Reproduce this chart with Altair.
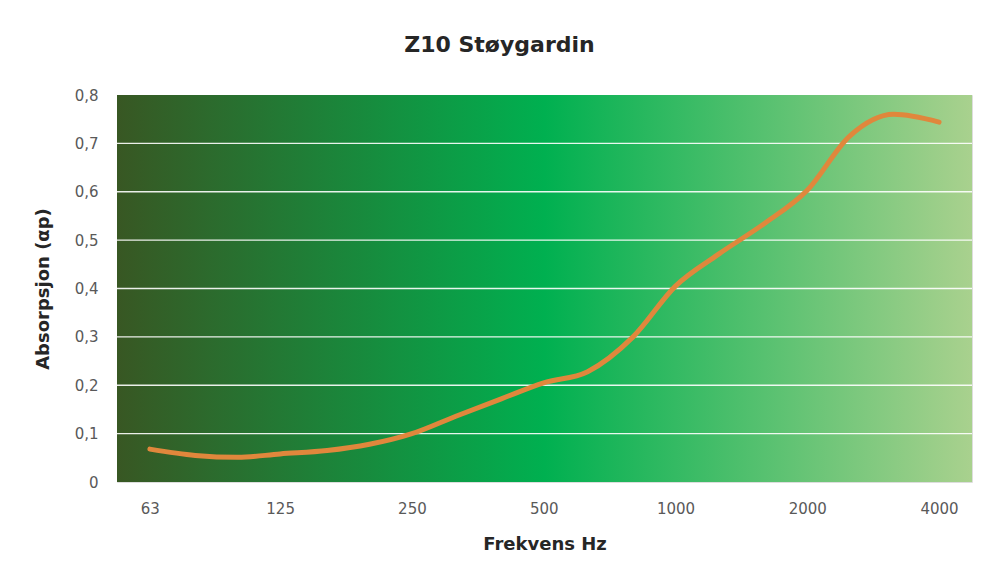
import altair as alt
import pandas as pd

# 1/3-octave band centre frequencies (Hz) and absorption values
freq = [63, 80, 100, 125, 160, 200, 250, 315, 400, 500, 630, 800,
        1000, 1250, 1600, 2000, 2500, 3150, 4000]
alpha = [0.068, 0.055, 0.051, 0.058, 0.065, 0.078, 0.100, 0.136, 0.172, 0.205,
         0.228, 0.300, 0.405, 0.470, 0.535, 0.603, 0.715, 0.760, 0.744]

tick_freqs = [63, 125, 250, 500, 1000, 2000, 4000]
y_ticks = [0, 0.1, 0.2, 0.3, 0.4, 0.5, 0.6, 0.7, 0.8]
grid_vals = [0.1, 0.2, 0.3, 0.4, 0.5, 0.6, 0.7]

df = pd.DataFrame({"freq": freq, "alpha": alpha})
grid_df = pd.DataFrame({"g": grid_vals})

FONT = "DejaVu Sans"
W, H = 855, 387

x_scale = alt.Scale(type="log", base=2, domain=[53, 4757], nice=False, zero=False)
y_scale = alt.Scale(domain=[0, 0.8], nice=False)

gradient = alt.LinearGradient(
    gradient="linear",
    x1=0, x2=1, y1=0, y2=0,
    stops=[
        alt.GradientStop(offset=0, color="#385723"),
        alt.GradientStop(offset=0.5, color="#00B050"),
        alt.GradientStop(offset=1, color="#A9D18E"),
    ],
)

bg = alt.Chart(pd.DataFrame({"a": [0]})).mark_rect(fill=gradient).encode(
    x=alt.value(0), x2=alt.value(W), y=alt.value(0), y2=alt.value(H)
)

grid = alt.Chart(grid_df).mark_rule(color="#FFFFFF", strokeWidth=1.3, opacity=0.9).encode(
    y=alt.Y("g:Q", scale=y_scale)
)

line = alt.Chart(df).mark_line(
    color="#E0873C", strokeWidth=5, interpolate="monotone", strokeCap="round"
).encode(
    x=alt.X(
        "freq:Q",
        scale=x_scale,
        axis=alt.Axis(
            title="Frekvens Hz",
            values=tick_freqs,
            labelExpr="format(datum.value, 'd')",
            ticks=False,
            domain=False,
            grid=False,
            labelPadding=19,
            labelFontSize=15,
            labelColor="#595959",
            labelFont=FONT,
            titleFont=FONT,
            titleFontSize=18,
            titleFontWeight="bold",
            titleColor="#262626",
            titlePadding=19,
        ),
    ),
    y=alt.Y(
        "alpha:Q",
        scale=y_scale,
        axis=alt.Axis(
            title="Absorpsjon (αp)",
            values=y_ticks,
            labelExpr="datum.value == 0 ? '0' : replace(format(datum.value, '.1f'), '.', ',')",
            ticks=False,
            domain=False,
            grid=False,
            labelPadding=19,
            labelFontSize=15,
            labelColor="#595959",
            labelFont=FONT,
            titleFont=FONT,
            titleFontSize=18,
            titleFontWeight="bold",
            titleColor="#262626",
            titlePadding=22,
        ),
    ),
)

chart = alt.layer(bg, grid, line).properties(
    width=W,
    height=H,
    title=alt.TitleParams(
        text="Z10 Støygardin",
        font=FONT,
        fontSize=22,
        fontWeight="bold",
        color="#262626",
        anchor="middle",
        frame="group",
        dx=-45,
        offset=31,
    ),
    autosize=alt.AutoSizeParams(type="none"),
    padding={"left": 109, "top": 87, "right": 7, "bottom": 80},
).configure_view(stroke=None).configure(background="#FFFFFF")

chart.save("out.html", embed_options={"renderer": "svg", "actions": False})
